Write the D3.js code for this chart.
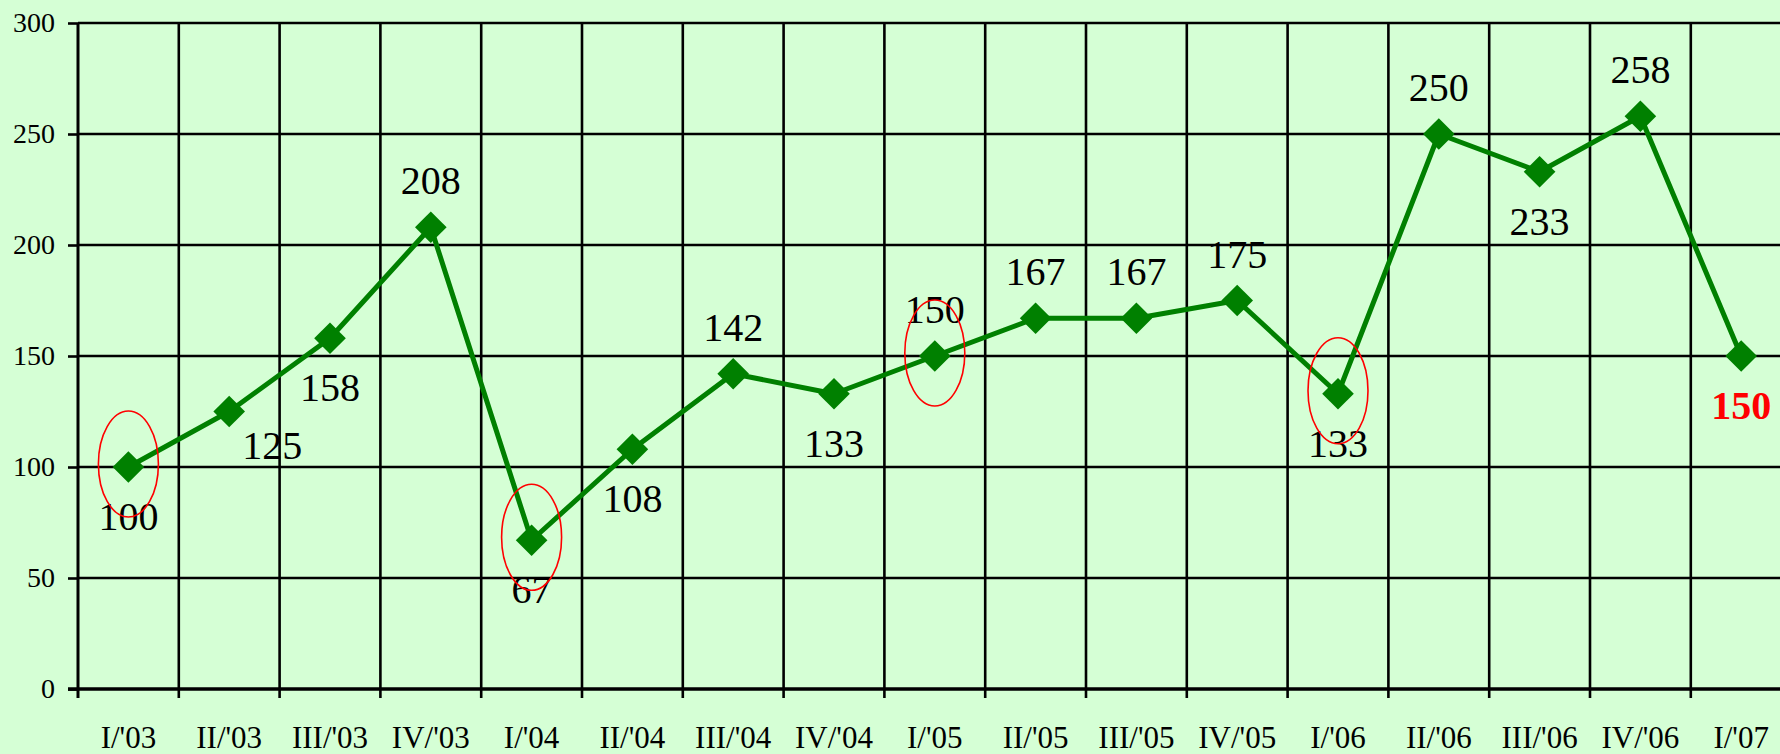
<!DOCTYPE html>
<html>
<head>
<meta charset="utf-8">
<script src="https://cdn.jsdelivr.net/npm/d3@7"></script>
<style>
  body { margin: 0; background: #d5ffd5; overflow: hidden; }
  svg { display: block; }
</style>
</head>
<body>
<svg id="chart"></svg>
<script>
var quarters = ["I/'03", "II/'03", "III/'03", "IV/'03", "I/'04", "II/'04", "III/'04", "IV/'04",
                "I/'05", "II/'05", "III/'05", "IV/'05", "I/'06", "II/'06", "III/'06", "IV/'06", "I/'07"];
var values = [100, 125, 158, 208, 67, 108, 142, 133, 150, 167, 167, 175, 133, 250, 233, 258, 150];
// where each value label sits relative to its point
var labelSide = ["below", "right", "below", "above", "below", "below", "above", "below",
                 "above", "above", "above", "above", "below", "above", "below", "above", "below"];
var circled = ["I/'03", "I/'04", "I/'05", "I/'06"];
var latest = "I/'07";
var yTicks = [0, 50, 100, 150, 200, 250, 300];

var W = 1780, H = 754;
var plotLeft = 78, plotTop = 23, plotBottom = 689;
var step = 100.8;

var svg = d3.select("#chart").attr("width", W).attr("height", H);

var x = d3.scaleBand()
    .domain(quarters)
    .range([plotLeft, plotLeft + step * quarters.length])
    .padding(0);

var y = d3.scaleLinear()
    .domain([0, 300])
    .range([plotBottom, plotTop]);

var plotRight = x.range()[1];

// horizontal grid
svg.append("g").selectAll("line")
    .data(yTicks.filter(function (d) { return d > 0; }))
  .enter().append("line")
    .attr("x1", plotLeft).attr("x2", plotRight)
    .attr("y1", function (d) { return y(d); })
    .attr("y2", function (d) { return y(d); })
    .attr("stroke", "#000")
    .attr("stroke-width", 2.6);

// vertical grid on band edges, running a little below the axis as ticks
svg.append("g").selectAll("line")
    .data(quarters)
  .enter().append("line")
    .attr("x1", function (d) { return x(d); })
    .attr("x2", function (d) { return x(d); })
    .attr("y1", plotTop).attr("y2", plotBottom + 9)
    .attr("stroke", "#000")
    .attr("stroke-width", function (d, i) { return i == 0 ? 3 : 2.6; });

// left axis: ticks + labels
var yAxis = svg.append("g")
    .attr("transform", "translate(" + plotLeft + ",0)")
    .call(d3.axisLeft(y).tickValues(yTicks).tickSize(10).tickPadding(13));
yAxis.select(".domain").remove();
yAxis.selectAll(".tick line").attr("stroke", "#000").attr("stroke-width", 2.6);
yAxis.selectAll("text")
    .attr("font-family", "'Liberation Serif', 'Times New Roman', serif")
    .attr("font-size", 28)
    .attr("fill", "#000");

// bottom axis line + labels
svg.append("line")
    .attr("x1", plotLeft - 10).attr("x2", plotRight)
    .attr("y1", plotBottom).attr("y2", plotBottom)
    .attr("stroke", "#000")
    .attr("stroke-width", 3.4);

var xAxis = svg.append("g")
    .attr("transform", "translate(0," + plotBottom + ")")
    .call(d3.axisBottom(x).tickSize(0).tickPadding(37));
xAxis.select(".domain").remove();
xAxis.selectAll("text")
    .attr("font-family", "'Liberation Serif', 'Times New Roman', serif")
    .attr("font-size", 31)
    .attr("fill", "#000");

var pts = quarters.map(function (q, i) {
  return { q: q, v: values[i], side: labelSide[i], cx: x(q) + x.bandwidth() / 2, cy: y(values[i]) };
});

// series line
var line = d3.line()
    .x(function (d) { return d.cx; })
    .y(function (d) { return d.cy; });

svg.append("path")
    .datum(pts)
    .attr("d", line)
    .attr("fill", "none")
    .attr("stroke", "#008000")
    .attr("stroke-width", 5)
    .attr("stroke-linejoin", "round");

// diamond markers
svg.append("g").selectAll("path")
    .data(pts)
  .enter().append("path")
    .attr("d", d3.symbol(d3.symbolSquare, 500))
    .attr("transform", function (d) { return "translate(" + d.cx + "," + d.cy + ") rotate(45)"; })
    .attr("fill", "#008000");

// value labels
svg.append("g").selectAll("text")
    .data(pts)
  .enter().append("text")
    .attr("x", function (d) { return d.side == "right" ? d.cx + 43 : d.cx; })
    .attr("y", function (d) {
      if (d.side == "above") return d.cy - 33;
      if (d.side == "right") return d.cy + 47;
      return d.cy + 63;
    })
    .attr("text-anchor", "middle")
    .attr("font-family", "'Liberation Serif', 'Times New Roman', serif")
    .attr("font-size", 40)
    .attr("font-weight", function (d) { return d.q == latest ? "bold" : "normal"; })
    .attr("fill", function (d) { return d.q == latest ? "#ff0000" : "#000"; })
    .text(function (d) { return d.v; });

// red rings around the first quarters
svg.append("g").selectAll("ellipse")
    .data(pts.filter(function (d) { return circled.indexOf(d.q) >= 0; }))
  .enter().append("ellipse")
    .attr("cx", function (d) { return d.cx; })
    .attr("cy", function (d) { return d.cy - 3; })
    .attr("rx", 30)
    .attr("ry", 53)
    .attr("fill", "none")
    .attr("stroke", "#ff0000")
    .attr("stroke-width", 1.6);
</script>
</body>
</html>
